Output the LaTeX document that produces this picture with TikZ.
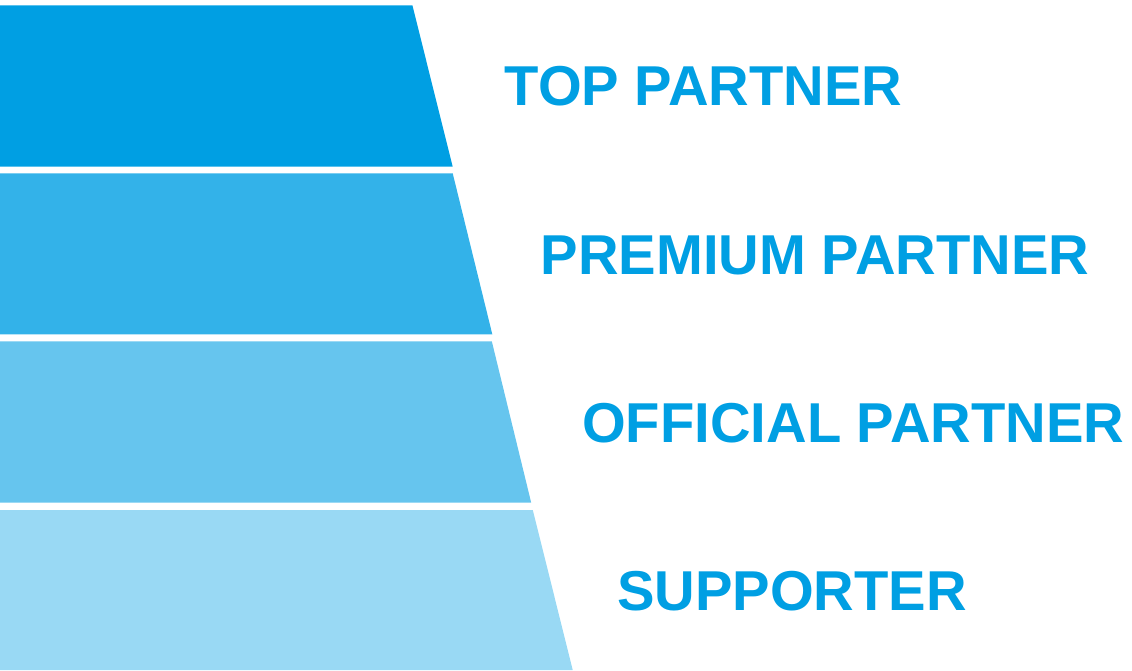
\documentclass[tikz,border=0pt]{standalone}
\usepackage{fontspec}
\setmainfont{Liberation Sans}
\definecolor{tierblue}{HTML}{009FE3}
\definecolor{tierblueA}{HTML}{33B2E9}
\definecolor{tierblueB}{HTML}{66C5EE}
\definecolor{tierblueC}{HTML}{99D9F4}
\tikzset{
  tiername/.style={anchor=west,inner sep=0pt,text=tierblue,font=\bfseries\fontsize{56.2}{60}\selectfont}
}
\begin{document}
\begin{tikzpicture}[x=1pt,y=-1pt]
  \useasboundingbox (0,0) rectangle (1132,670);

  \fill[tierblue]  (0,5.3)   -- (412.4,5.3)   -- (452.7,166.7) -- (0,166.7) -- cycle;
  \fill[tierblueA] (0,173.3) -- (452.7,173.3) -- (492.3,334.3) -- (0,334.3) -- cycle;
  \fill[tierblueB] (0,341.3) -- (491.8,341.3) -- (531.2,502.7) -- (0,502.7) -- cycle;
  \fill[tierblueC] (0,510)   -- (532.8,510)   -- (572.7,670)   -- (0,670)   -- cycle;

  \node[tiername] (top)      at (504.5,86.5) {TOP PARTNER};
  \node[tiername] (premium)  at (540.7,255)  {PREMIUM PARTNER};
  \node[tiername] (official) at (582,423)    {OFFICIAL PARTNER};
  \node[tiername] (support)  at (617,591)    {SUPPORTER};
\end{tikzpicture}
\end{document}
